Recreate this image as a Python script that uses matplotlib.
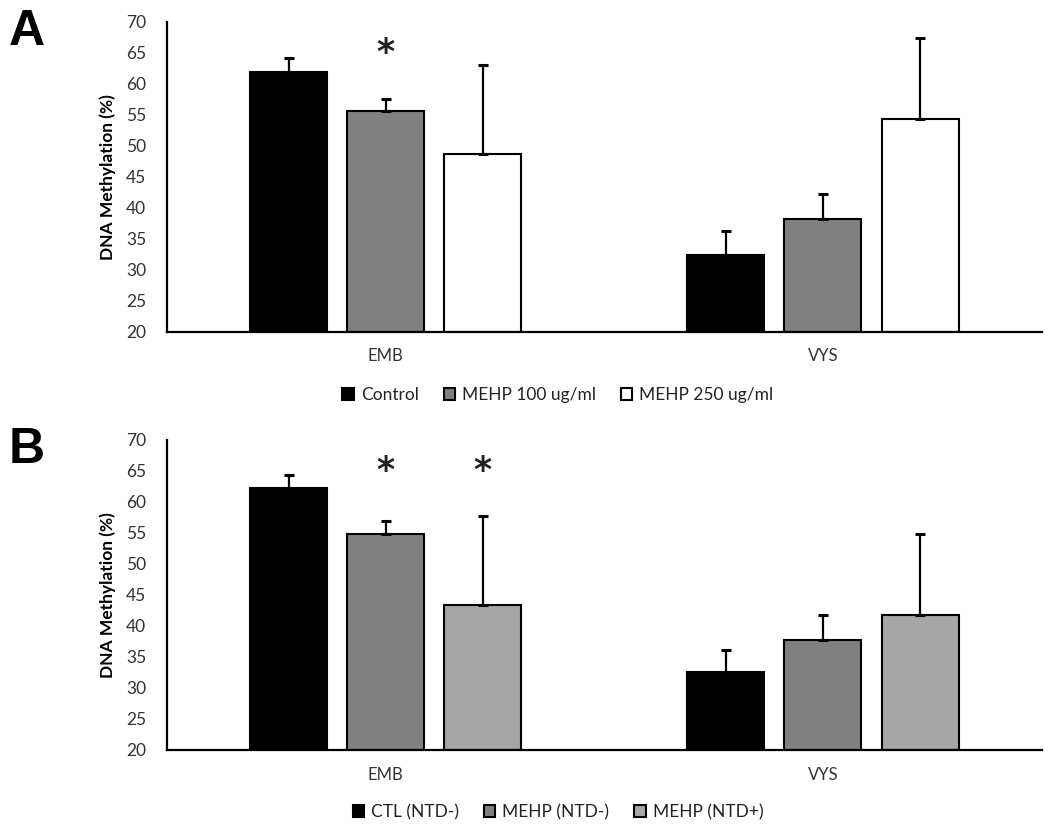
import numpy as np
import matplotlib
matplotlib.use("Agg")
import matplotlib.pyplot as plt

plt.rcParams['font.family'] = ['Lato', 'DejaVu Sans']

# data
groups = ['EMB', 'VYS']

labels_a = ['Control', 'MEHP 100 ug/ml', 'MEHP 250 ug/ml']
means_a = [[61.9, 55.6, 48.6],   # EMB
           [32.4, 38.2, 54.3]]   # VYS
errs_a = [[2.3, 1.9, 14.4],
          [3.8, 4.0, 13.0]]
stars_a = [(0, 1)]  # (group, series)

labels_b = ['CTL (NTD-)', 'MEHP (NTD-)', 'MEHP (NTD+)']
means_b = [[62.2, 54.8, 43.4],
           [32.5, 37.8, 41.8]]
errs_b = [[2.2, 2.1, 14.3],
          [3.7, 4.0, 13.1]]
stars_b = [(0, 1), (0, 2)]

colors_a = ['#000000', '#808080', '#ffffff']
colors_b = ['#000000', '#808080', '#a6a6a6']


def panel(ax, means, errs, labels, colors, stars, letter, leg_y):
    means = np.array(means)
    errs = np.array(errs)
    x = np.arange(len(groups))
    w = 0.176
    step = 0.222
    for i in range(means.shape[1]):
        pos = x + (i - 1) * step
        ax.bar(pos, means[:, i] - 20, bottom=20, width=w, color=colors[i],
               edgecolor='black', linewidth=1.5, label=labels[i],
               yerr=[np.zeros(len(groups)), errs[:, i]],
               error_kw=dict(ecolor='black', elinewidth=1.6, capsize=3.5, capthick=2.2))
    # significance marks
    for g, s in stars:
        ax.text(x[g] + (s - 1) * step, 65.0, '*', ha='center', va='center',
                fontsize=25, fontweight='bold', color='#222222', family='DejaVu Sans')
    ax.set_xlim(-0.5, 1.5)
    ax.set_ylim(20, 70)
    ax.set_yticks(np.arange(20, 71, 5))
    ax.set_xticks(x)
    ax.set_xticklabels(groups)
    ax.tick_params(axis='y', length=0, labelsize=12.5, pad=15, colors='#333333')
    ax.tick_params(axis='x', length=0, labelsize=12, pad=12, colors='#333333')
    for sp in ['top', 'right']:
        ax.spines[sp].set_visible(False)
    for sp in ['left', 'bottom']:
        ax.spines[sp].set_linewidth(1.6)
    ax.set_ylabel('DNA Methylation (%)', fontsize=12.5, fontweight='bold', labelpad=7)
    ax.legend(loc='center', bbox_to_anchor=(0.447, leg_y), ncol=3, frameon=False,
              fontsize=12.5, handlelength=0.65, handleheight=0.65, handletextpad=0.4,
              columnspacing=1.45, labelcolor='#222222')
    ax.text(-0.16, 0.925, letter, transform=ax.transAxes, fontsize=36,
            fontweight='bold', family='Liberation Sans', va='baseline', ha='center')


fig = plt.figure(figsize=(10.5, 8.3), dpi=100)
ax1 = fig.add_axes([0.159, 0.6004, 0.833, 0.3735])
ax2 = fig.add_axes([0.159, 0.0964, 0.833, 0.3735])

panel(ax1, means_a, errs_a, labels_a, colors_a, stars_a, 'A', -0.205)
panel(ax2, means_b, errs_b, labels_b, colors_b, stars_b, 'B', -0.2)

fig.savefig('out.png', dpi=100)
